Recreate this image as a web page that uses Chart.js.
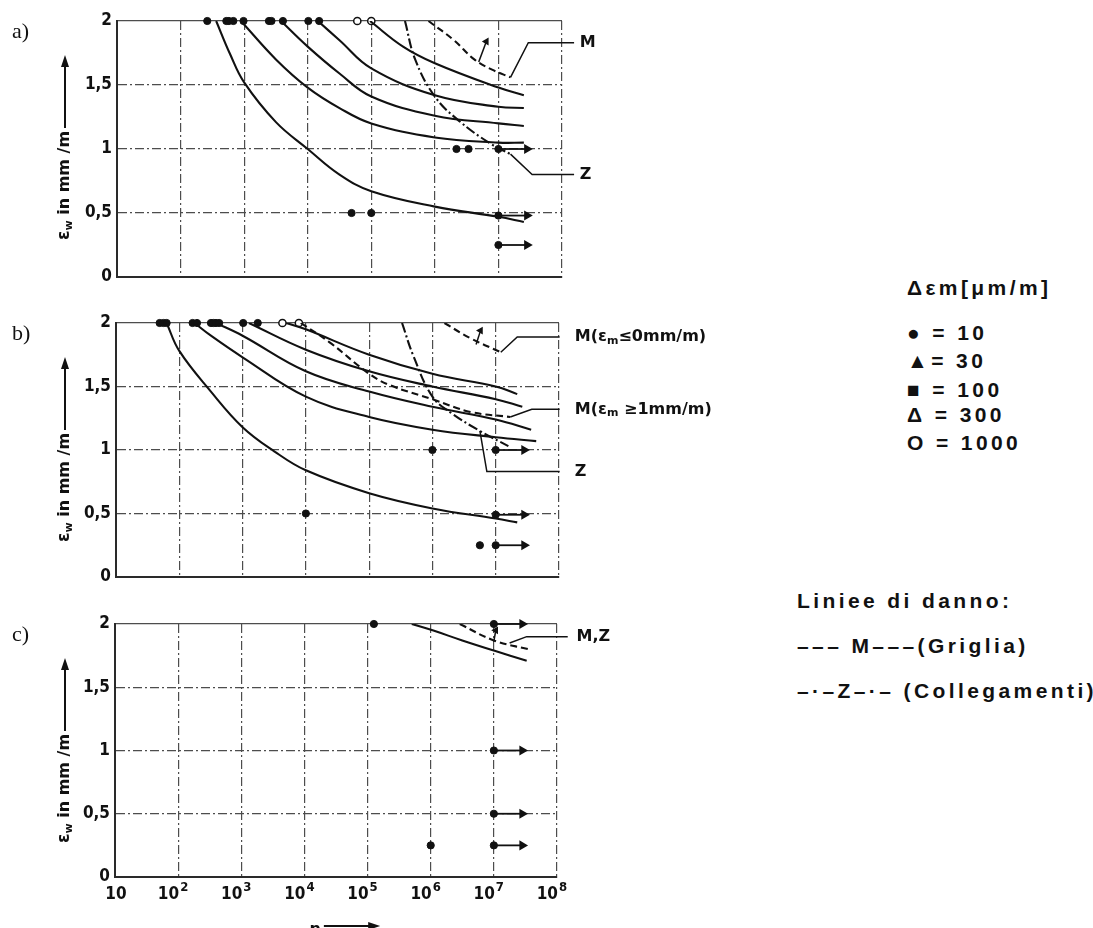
<!DOCTYPE html>
<html>
<head>
<meta charset="utf-8">
<script src="https://cdn.jsdelivr.net/npm/chart.js@4.4.1/dist/chart.umd.min.js"></script>
<style>
  html, body { margin: 0; padding: 0; background: #fff; width: 1093px; height: 928px; overflow: hidden; }
  .panel { position: absolute; left: 0; }
  .panel canvas { display: block; }
  .key { position: absolute; font-family: "Liberation Sans", Arial, sans-serif; font-weight: bold;
         font-size: 21px; line-height: 24px; letter-spacing: 3.4px; color: #111; white-space: nowrap; }
</style>
</head>
<body>
<div class="panel" style="top:0"><canvas id="pa" width="760" height="300"></canvas></div>
<div class="panel" style="top:300px"><canvas id="pb" width="760" height="300"></canvas></div>
<div class="panel" style="top:600px"><canvas id="pc" width="760" height="328"></canvas></div>

<div class="key" style="left:907px;top:276px">Δεm[μm/m]</div>
<div class="key" style="left:907px;top:321px">● = 10</div>
<div class="key" style="left:907px;top:349px">▲= 30</div>
<div class="key" style="left:907px;top:378px">■ = 100</div>
<div class="key" style="left:907px;top:403px">Δ = 300</div>
<div class="key" style="left:907px;top:431px">O = 1000</div>

<div class="key" style="left:797px;top:589px">Liniee di danno:</div>
<div class="key" style="left:797px;top:634px">––– M–––(Griglia)</div>
<div class="key" style="left:797px;top:679px">–·–Z–·– (Collegamenti)</div>

<script>
// ---- axes ----
const xTickValues = [1e1, 1e2, 1e3, 1e4, 1e5, 1e6, 1e7, 1e8];
const xTickBase = '10';
const xTickExp = ['', '2', '3', '4', '5', '6', '7', '8'];
const yTickValues = [0, 0.5, 1, 1.5, 2];
const yTickLabels = ['0', '0,5', '1', '1,5', '2'];

// ---- a) : pairs of [log10 n, eps_w] ----
const a1 = [[2.56,2.00],[2.78,1.74],[3.00,1.52],[3.50,1.21],[4.00,1.00],[4.50,0.80],[5.00,0.67],[6.00,0.55],[7.00,0.47],[7.40,0.43]];
const a2 = [[2.95,2.00],[3.50,1.70],[4.00,1.48],[4.50,1.32],[5.00,1.20],[6.00,1.09],[7.00,1.05],[7.40,1.05]];
const a3 = [[3.58,2.00],[4.00,1.80],[4.50,1.59],[5.00,1.41],[6.00,1.26],[7.00,1.20],[7.40,1.18]];
const a4 = [[4.16,2.00],[4.50,1.85],[5.00,1.63],[6.00,1.42],[7.00,1.33],[7.40,1.32]];
const a5 = [[4.98,2.00],[5.50,1.80],[6.00,1.67],[7.00,1.48],[7.40,1.42]];
const aM = [[5.90,2.00],[6.30,1.85],[6.62,1.70],[6.90,1.62],[7.19,1.56]];
const aZ = [[5.53,2.00],[5.69,1.70],[6.00,1.41],[6.38,1.22],[6.88,1.04],[7.19,0.96]];
const aDots = [[2.42,2],[2.72,2],[2.76,2],[2.83,2],[2.99,2],[3.39,2],[3.43,2],[3.61,2],[4.01,2],[4.18,2],
               [6.34,1],[6.53,1],[7.00,1],[4.69,0.5],[5.00,0.5],[7.00,0.48],[7.00,0.25]];
const aOpen = [[4.78,2],[5.00,2]];
const aArrows = [1, 0.48, 0.25];
const aLeadM = [[7.19,1.56],[7.47,1.83],[8.19,1.83]];
const aLeadZ = [[7.19,0.96],[7.53,0.80],[8.19,0.80]];
const aTick = [[6.69,1.68],[6.81,1.84]];

// ---- b) ----
const b1 = [[1.80,2.00],[2.00,1.78],[2.50,1.46],[3.00,1.18],[3.50,0.99],[4.00,0.84],[5.00,0.66],[6.00,0.54],[7.00,0.46],[7.34,0.43]];
const b2 = [[2.24,2.00],[2.50,1.90],[3.00,1.73],[4.00,1.42],[5.00,1.26],[6.00,1.16],[7.00,1.10],[7.64,1.07]];
const b3 = [[2.58,2.00],[3.00,1.90],[4.00,1.62],[5.00,1.46],[6.00,1.34],[7.00,1.24],[7.56,1.16]];
const b4 = [[3.10,2.00],[4.00,1.79],[5.00,1.62],[6.00,1.50],[7.00,1.40],[7.42,1.34]];
const b5 = [[3.69,2.00],[4.00,1.95],[5.00,1.75],[6.00,1.60],[7.00,1.50],[7.34,1.44]];
const bM0 = [[6.19,2.00],[6.60,1.88],[7.08,1.77]];
const bM1 = [[3.92,2.00],[4.37,1.85],[5.00,1.60],[5.33,1.51],[6.00,1.40],[6.60,1.30],[7.23,1.26]];
const bZ = [[5.52,2.00],[5.70,1.74],[6.00,1.42],[6.30,1.29],[6.75,1.15],[7.20,1.03]];
const bDots = [[1.69,2],[1.75,2],[1.80,2],[2.21,2],[2.28,2],[2.50,2],[2.54,2],[2.58,2],[2.63,2],[3.01,2],[3.24,2],
               [6.00,1],[7.00,1],[4.00,0.5],[7.00,0.49],[6.75,0.25],[7.00,0.25]];
const bOpen = [[3.63,2],[3.89,2]];
const bArrows = [1, 0.49, 0.25];
const bLeadM0 = [[7.08,1.77],[7.34,1.89],[8.01,1.89]];
const bLeadM1 = [[7.23,1.26],[7.57,1.32],[8.01,1.32]];
const bLeadZ = [[6.75,1.15],[6.86,0.83],[8.01,0.83]];
const bTick = [[6.69,1.83],[6.76,1.94]];

// ---- c) ----
const cSolid = [[5.70,2.00],[6.03,1.95],[6.50,1.87],[7.00,1.79],[7.52,1.71]];
const cDash = [[6.46,2.00],[7.00,1.87],[7.55,1.80]];
const cDots = [[5.10,2],[7.00,2],[7.00,1],[7.00,0.5],[6.00,0.25],[7.00,0.25]];
const cArrows = [2, 1, 0.5, 0.25];
const cLead = [[7.25,1.85],[7.52,1.90],[8.17,1.90]];
const cTick = [[7.00,1.86],[7.03,1.95]];

const ARROW_END = 7.45;
const INK = '#111';
const SANS = '"DejaVu Sans", sans-serif';
const NARROW = '"Liberation Sans Narrow", "DejaVu Sans Condensed", sans-serif';

const pts = arr => arr.map(([l, e]) => ({ x: Math.pow(10, l), y: e }));

function curve(arr, dash) {
  return { data: pts(arr), showLine: true, borderColor: INK, borderWidth: 2.1, pointRadius: 0,
           borderDash: dash || [], tension: 0.4, fill: false };
}
function leader(arr) {
  return { data: pts(arr), showLine: true, borderColor: INK, borderWidth: 1.5, pointRadius: 0,
           tension: 0, clip: false, fill: false };
}
function tickMark(arr) {
  return { data: pts(arr), showLine: true, borderColor: INK, borderWidth: 1.5,
           pointRadius: [0, 3], pointStyle: 'triangle', pointRotation: 30,
           pointBackgroundColor: INK, pointBorderColor: INK, tension: 0, fill: false };
}
function dots(arr, open) {
  return { data: pts(arr), showLine: false, pointRadius: 3.6, pointStyle: 'circle',
           pointBackgroundColor: open ? '#fff' : INK, pointBorderColor: INK,
           pointBorderWidth: open ? 1.5 : 1, clip: false };
}
function arrows(ys) {
  return ys.map(e => ({ data: pts([[7, e], [ARROW_END, e]]), showLine: true, borderColor: INK, borderWidth: 1.8,
                        pointRadius: [0, 4], pointStyle: 'triangle', pointRotation: 90,
                        pointBackgroundColor: INK, pointBorderColor: INK, tension: 0, clip: false }));
}

// panel letter, y-axis title, leader labels, x tick labels and x title
const annotPlugin = {
  id: 'annot',
  afterDraw(chart, args, o) {
    const ctx = chart.ctx, area = chart.chartArea;
    const xs = chart.scales.x, ys = chart.scales.y;
    ctx.save();
    ctx.fillStyle = INK;
    ctx.strokeStyle = INK;

    ctx.font = '22px "Liberation Serif", serif';
    ctx.textAlign = 'left';
    ctx.textBaseline = 'middle';
    ctx.fillText(o.letter, 12, area.top + 11);

    // rotated y title with arrow
    ctx.save();
    ctx.translate(65, area.top + 219);
    ctx.rotate(-Math.PI / 2);
    ctx.textBaseline = 'middle';
    let p = 0;
    ctx.font = 'bold 17px ' + SANS;
    ctx.fillText('ε', p, 0); p += ctx.measureText('ε').width;
    ctx.font = 'bold 11px ' + SANS;
    ctx.fillText('w', p, 4); p += ctx.measureText('w').width;
    ctx.font = 'bold 16px ' + SANS;
    ctx.fillText(' in mm /m', p, 0); p += ctx.measureText(' in mm /m').width;
    const tip = 185;
    ctx.lineWidth = 2;
    ctx.beginPath(); ctx.moveTo(p + 3, 0); ctx.lineTo(tip - 8, 0); ctx.stroke();
    ctx.beginPath(); ctx.moveTo(tip, 0); ctx.lineTo(tip - 12, -4); ctx.lineTo(tip - 12, 4); ctx.closePath(); ctx.fill();
    ctx.restore();

    // leader labels
    ctx.textBaseline = 'middle';
    for (const lab of o.labels) {
      let x = xs.getPixelForValue(Math.pow(10, lab.at[0]));
      const y = ys.getPixelForValue(lab.at[1]);
      for (const part of lab.parts) {
        ctx.font = part.sub ? 'bold 11px ' + SANS : 'bold 16px ' + SANS;
        ctx.fillText(part.t, x, y + (part.sub ? 4 : 0));
        x += ctx.measureText(part.t).width;
      }
    }

    // x tick labels with raised exponents
    if (o.xLabels) {
      const yb = area.bottom + 18;
      xTickValues.forEach((v, i) => {
        const x = xs.getPixelForValue(v);
        ctx.font = 'bold 17px ' + NARROW;
        ctx.textBaseline = 'middle';
        if (!xTickExp[i]) {
          ctx.textAlign = 'center';
          ctx.fillText(xTickBase, x + 1, yb);
        } else {
          ctx.textAlign = 'right';
          ctx.fillText(xTickBase, x + 1, yb);
          ctx.font = 'bold 13px ' + NARROW;
          ctx.textAlign = 'left';
          ctx.fillText(xTickExp[i], x + 2, yb - 7);
        }
      });
      ctx.textAlign = 'left';
    }

    // x title
    if (o.xTitle) {
      const x0 = xs.getPixelForValue(Math.pow(10, 4.08));
      ctx.font = 'bold 16px ' + SANS;
      ctx.textBaseline = 'top';
      ctx.fillText('n', x0, area.bottom + 45);
      const w = ctx.measureText('n').width;
      const y = area.bottom + 49;
      const x1 = xs.getPixelForValue(Math.pow(10, 5.2));
      ctx.lineWidth = 2;
      ctx.beginPath(); ctx.moveTo(x0 + w + 3, y); ctx.lineTo(x1 - 8, y); ctx.stroke();
      ctx.beginPath(); ctx.moveTo(x1, y); ctx.lineTo(x1 - 12, y - 4); ctx.lineTo(x1 - 12, y + 4); ctx.closePath(); ctx.fill();
    }
    ctx.restore();
  }
};

function makeChart(id, cfg) {
  const gridDash = [9, 3, 2, 3];
  new Chart(document.getElementById(id), {
    type: 'scatter',
    data: { datasets: cfg.datasets },
    plugins: [annotPlugin],
    options: {
      responsive: false,
      animation: false,
      devicePixelRatio: 1,
      layout: { padding: { left: 0, top: cfg.top, right: cfg.right, bottom: 0 } },
      plugins: {
        legend: { display: false },
        tooltip: { enabled: false },
        annot: { letter: cfg.letter, labels: cfg.labels, xTitle: cfg.xTitle, xLabels: cfg.xLabels }
      },
      scales: {
        x: {
          type: 'logarithmic', min: 10, max: 1e8,
          afterBuildTicks: s => { s.ticks = xTickValues.map(v => ({ value: v })); },
          afterFit: s => { s.height = cfg.xh; },
          ticks: { display: false },
          grid: { color: '#4d4d4d', lineWidth: 1.2, drawTicks: false },
          border: { display: true, color: '#2a2a2a', width: 2, dash: gridDash }
        },
        y: {
          type: 'linear', min: 0, max: 2,
          afterBuildTicks: s => { s.ticks = yTickValues.map(v => ({ value: v })); },
          afterFit: s => { s.width = cfg.yw; },
          ticks: {
            padding: 5, color: INK,
            font: { family: NARROW, size: 17, weight: 'bold' },
            callback: (v, i) => yTickLabels[i]
          },
          grid: { color: '#4d4d4d', lineWidth: 1.2, drawTicks: false },
          border: { display: true, color: '#2a2a2a', width: 2,
                    dash: c => (c.tick && c.tick.value === 2) ? [] : gridDash }
        }
      }
    }
  });
}

const DASH_M = [7, 4];
const DASH_Z = [10, 3, 2, 3];

makeChart('pa', {
  letter: 'a)', top: 21, right: 198, xh: 23, yw: 117, xLabels: false,
  datasets: [
    curve(a1), curve(a2), curve(a3), curve(a4), curve(a5),
    curve(aM, DASH_M), curve(aZ, DASH_Z),
    leader(aLeadM), leader(aLeadZ), tickMark(aTick),
    ...arrows(aArrows), dots(aDots), dots(aOpen, true)
  ],
  labels: [
    { at: [8.28, 1.83], parts: [{ t: 'M' }] },
    { at: [8.28, 0.80], parts: [{ t: 'Z' }] }
  ]
});

makeChart('pb', {
  letter: 'b)', top: 23, right: 201, xh: 23, yw: 116, xLabels: false,
  datasets: [
    curve(b1), curve(b2), curve(b3), curve(b4), curve(b5),
    curve(bM0, DASH_M), curve(bM1, DASH_M), curve(bZ, DASH_Z),
    leader(bLeadM0), leader(bLeadM1), leader(bLeadZ), tickMark(bTick),
    ...arrows(bArrows), dots(bDots), dots(bOpen, true)
  ],
  labels: [
    { at: [8.25, 1.89], parts: [{ t: 'M(ε' }, { t: 'm', sub: true }, { t: '≤0mm/m)' }] },
    { at: [8.25, 1.32], parts: [{ t: 'M(ε' }, { t: 'm', sub: true }, { t: ' ≥1mm/m)' }] },
    { at: [8.25, 0.83], parts: [{ t: 'Z' }] }
  ]
});

makeChart('pc', {
  letter: 'c)', top: 24, right: 203, xh: 51, yw: 115, xLabels: true, xTitle: true,
  datasets: [
    curve(cSolid), curve(cDash, DASH_M),
    leader(cLead), tickMark(cTick),
    ...arrows(cArrows), dots(cDots)
  ],
  labels: [
    { at: [8.31, 1.90], parts: [{ t: 'M,Z' }] }
  ]
});
</script>
</body>
</html>
